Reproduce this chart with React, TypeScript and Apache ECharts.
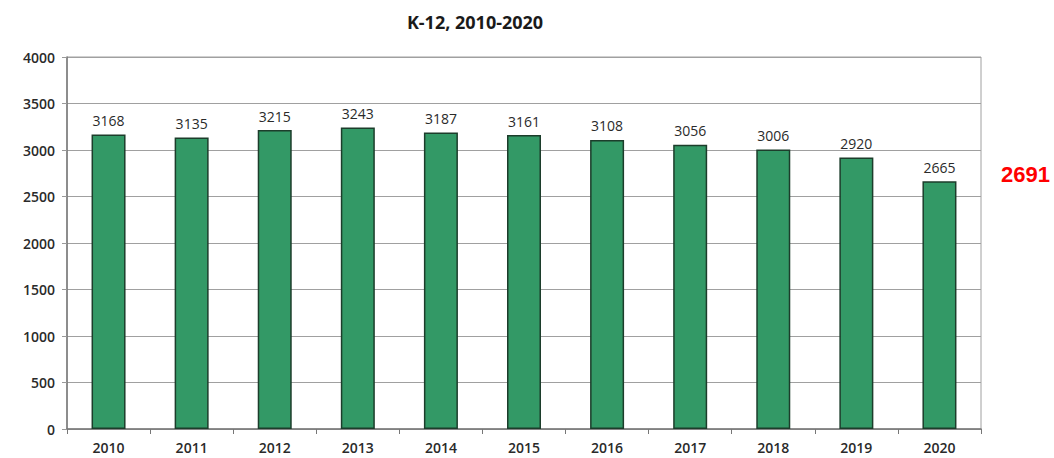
import React, { useEffect, useRef } from "react";
import * as echarts from "echarts";

// Enrollment by school year
const years = ["2010", "2011", "2012", "2013", "2014", "2015", "2016", "2017", "2018", "2019", "2020"];
const enrollment = [3168, 3135, 3215, 3243, 3187, 3161, 3108, 3056, 3006, 2920, 2665];
const titleText = "K-12, 2010-2020";
const sideNote = "2691";

export default function App() {
  const ref = useRef<HTMLDivElement>(null);

  useEffect(() => {
    if (!ref.current) return;
    const chart = echarts.init(ref.current, undefined, { renderer: "svg" });
    const font = "'Open Sans', 'Liberation Sans', sans-serif";
    chart.setOption({
      animation: false,
      backgroundColor: "#ffffff",
      title: {
        text: titleText,
        left: 470,
        top: 8,
        textAlign: "center",
        textStyle: { fontFamily: font, fontSize: 18, fontWeight: "bold", color: "#1a1a1a" },
      },
      graphic: [
        {
          type: "text",
          right: 4,
          top: 163,
          style: {
            text: sideNote,
            fill: "#ff0000",
            fontFamily: "'Liberation Sans', Arial, sans-serif",
            fontSize: 22,
            fontWeight: "bold",
          },
        },
      ],
      grid: {
        left: 67,
        right: 73,
        top: 57,
        bottom: 29,
        show: true,
        borderColor: "#a0a0a0",
        borderWidth: 1,
      },
      xAxis: {
        type: "category",
        data: years,
        boundaryGap: true,
        axisLine: { lineStyle: { color: "#777", width: 1.5 } },
        axisTick: { show: true, length: 5, lineStyle: { color: "#777" } },
        axisLabel: { fontFamily: font, fontSize: 14, fontWeight: 600, color: "#2a2a2a", margin: 11 },
      },
      yAxis: {
        type: "value",
        min: 0,
        max: 4000,
        interval: 500,
        axisLine: { show: true, lineStyle: { color: "#777", width: 1.5 } },
        axisTick: { show: true, length: 5, lineStyle: { color: "#999" } },
        splitLine: { lineStyle: { color: "#a0a0a0", width: 1 } },
        axisLabel: {
          fontFamily: font,
          fontSize: 14,
          fontWeight: 600,
          color: "#2a2a2a",
          margin: 12,
          formatter: (v: number) => String(v),
        },
      },
      series: [
        {
          type: "bar",
          data: enrollment,
          barWidth: 34,
          itemStyle: { color: "#339966", borderColor: "#1c3d2b", borderWidth: 1.5 },
          label: {
            show: true,
            position: "top",
            distance: 7,
            fontFamily: font,
            fontSize: 14,
            color: "#2a2a2a",
          },
        },
      ],
    });
    return () => chart.dispose();
  }, []);

  return <div ref={ref} style={{ width: 1054, height: 458, position: "absolute", left: 0, top: 0 }} />;
}
